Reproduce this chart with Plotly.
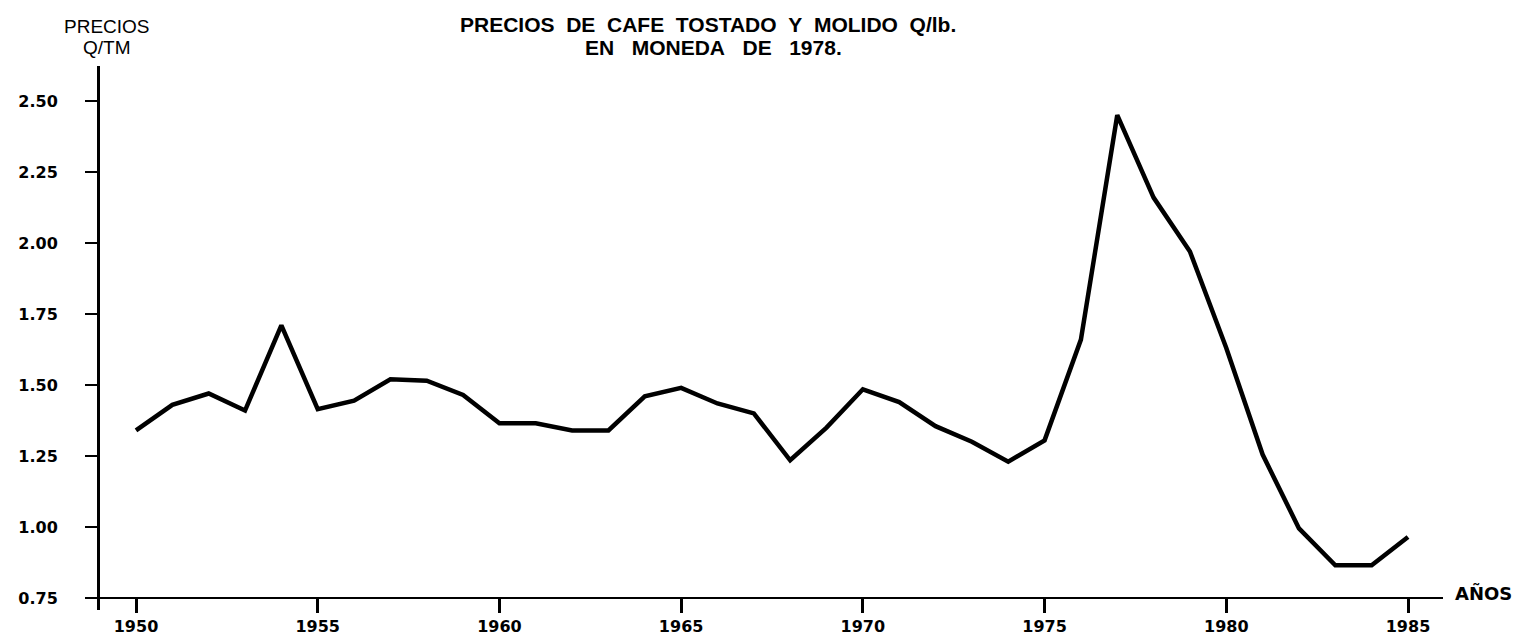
import plotly.graph_objects as go

years = list(range(1950, 1986))
precios = [1.34, 1.43, 1.47, 1.41, 1.71, 1.415, 1.445, 1.52, 1.515, 1.465,
           1.365, 1.365, 1.34, 1.34, 1.46, 1.49, 1.435, 1.40, 1.235, 1.35,
           1.485, 1.44, 1.355, 1.30, 1.23, 1.305, 1.66, 2.45, 2.16, 1.97,
           1.63, 1.255, 0.995, 0.865, 0.865, 0.965]

x_ticks = [1950, 1955, 1960, 1965, 1970, 1975, 1980, 1985]
y_ticks = [0.75, 1.00, 1.25, 1.50, 1.75, 2.00, 2.25, 2.50]
y_ticktext = ["0.75", "1.00", "1.25", "1.50", "1.75", "2.00", "2.25", "2.50"]

W, H = 1520, 635
L, R, T, B = 92, 85, 58, 33
plot_h = H - T - B

y_lo = 0.75 - 12 / 284.0
y_hi = 0.75 + (590 - T) / 284.0
x_lo = 1950 - (128 - L) / 36.34
x_hi = 1985 + (W - R - 1400) / 36.34

tick_font = dict(family="DejaVu Sans", size=16, color="black", weight="bold")
nb = "\u00a0"

fig = go.Figure()
fig.add_trace(go.Scatter(x=years, y=precios, mode="lines",
                         line=dict(color="black", width=4.5),
                         showlegend=False, hoverinfo="x+y"))

fig.update_layout(
    width=W, height=H,
    margin=dict(l=L, r=R, t=T, b=B, autoexpand=False),
    paper_bgcolor="white", plot_bgcolor="white",
    xaxis=dict(range=[x_lo, x_hi], tickvals=x_ticks, ticktext=[str(v) for v in x_ticks],
               showgrid=False, zeroline=False, showline=True, linecolor="black", linewidth=2,
               ticks="outside", ticklen=14, tickwidth=3, tickcolor="black",
               tickfont=tick_font, anchor="free", position=12 / plot_h, automargin=False),
    yaxis=dict(range=[y_lo, y_hi], tickvals=y_ticks, ticktext=y_ticktext,
               showgrid=False, zeroline=False, showline=True, linecolor="black", linewidth=3,
               ticks="outside", ticklen=12, tickwidth=2, tickcolor="black",
               tickfont=tick_font, ticklabelstandoff=24, automargin=False),
    annotations=[
        dict(text=f"PRECIOS{nb}{nb}DE{nb}{nb}CAFE{nb}{nb}TOSTADO{nb}{nb}Y{nb}{nb}MOLIDO{nb}{nb}Q/lb.",
             xref="paper", yref="paper", x=(700 - L) / (W - L - R), y=1 + (T - 16) / plot_h,
             xanchor="center", yanchor="middle", showarrow=False,
             font=dict(family="Liberation Sans", size=21, color="black", weight="bold")),
        dict(text=f"EN{nb}{nb}{nb}MONEDA{nb}{nb}{nb}DE{nb}{nb}{nb}1978.",
             xref="paper", yref="paper", x=(705 - L) / (W - L - R), y=1 + (T - 40) / plot_h,
             xanchor="center", yanchor="middle", showarrow=False,
             font=dict(family="Liberation Sans", size=21, color="black", weight="bold")),
        dict(text="PRECIOS", xref="paper", yref="paper",
             x=(99 - L) / (W - L - R), y=1 + (T - 18.5) / plot_h,
             xanchor="center", yanchor="middle", showarrow=False,
             font=dict(family="Liberation Sans", size=19, color="black")),
        dict(text="Q/TM", xref="paper", yref="paper",
             x=(99 - L) / (W - L - R), y=1 + (T - 39.5) / plot_h,
             xanchor="center", yanchor="middle", showarrow=False,
             font=dict(family="Liberation Sans", size=19, color="black")),
        dict(text="AÑOS", xref="paper", yref="paper",
             x=(1445 - L) / (W - L - R), y=(H - B - 585) / plot_h,
             xanchor="left", yanchor="middle", showarrow=False,
             font=dict(family="DejaVu Sans", size=18, color="black", weight="bold")),
    ],
)

fig.write_html("out.html")
